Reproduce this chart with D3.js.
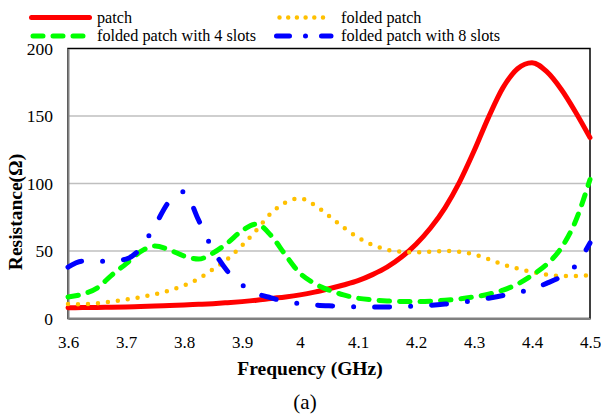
<!DOCTYPE html>
<html>
<head>
<meta charset="utf-8">
<script src="https://cdn.jsdelivr.net/npm/d3@7/dist/d3.min.js"></script>
<style>
  html, body { margin: 0; padding: 0; background: #fff; }
  svg { display: block; }
  text { font-family: "Liberation Serif", "Times New Roman", serif; fill: #000; }
</style>
</head>
<body>
<svg id="chart" width="601" height="417"></svg>
<script>
// Frequency samples (GHz), 25 MHz apart
const freq = [3.6, 3.625, 3.65, 3.675, 3.7, 3.725, 3.75, 3.775, 3.8, 3.825,
              3.85, 3.875, 3.9, 3.925, 3.95, 3.975, 4.0, 4.025, 4.05, 4.075,
              4.1, 4.125, 4.15, 4.175, 4.2, 4.225, 4.25, 4.275, 4.3, 4.325,
              4.35, 4.375, 4.4, 4.425, 4.45, 4.475, 4.5];

// Input resistance (Ω) of each antenna
const patch = [8, 8.1, 8.2, 8.4, 8.6, 8.9, 9.2, 9.6, 10, 10.5,
               11, 11.7, 12.5, 13.5, 14.8, 16, 17.5, 19.5, 22, 24.8,
               28, 32.5, 38, 45.5, 55, 67, 82, 101, 124, 149,
               171, 185, 189.5, 183, 170, 153, 134];
const foldedPatch = [10.7, 10.6, 11.3, 12.5, 14, 15.8, 18, 20.8, 24.5, 29.5,
                     36.5, 44, 54, 65.5, 78, 86, 89, 84, 76, 67.5,
                     60, 54.5, 51, 49.5, 49, 49.5, 50, 49.5, 47.5, 44,
                     40, 37, 34.5, 32.5, 31.5, 31.5, 32];
const folded4Slots = [16, 18, 22.5, 32, 40.5, 49.5, 53.7, 50.8, 46.3, 44,
                      48.5, 56, 65, 70, 61.5, 47, 33.5, 26, 21, 17.5,
                      15, 13.8, 13, 12.6, 12.5, 12.8, 13.5, 14.5, 16, 18,
                      21, 25.5, 32, 40, 52, 72, 103];
const folded8Slots = [38, 42.5, 42.3, 42.5, 44, 52, 69, 87, 94, 73,
                      51, 35, 25, 18.5, 15.3, 12.5, 11, 10, 9.4, 9,
                      8.7, 8.5, 8.5, 8.7, 9.2, 9.8, 10.7, 11.8, 13.2, 15,
                      17, 19, 22, 26, 31, 39, 56];

const seriesNames = ["patch", "folded patch", "folded patch with 4 slots", "folded patch with 8 slots"];
const xTicks = [3.6, 3.7, 3.8, 3.9, 4, 4.1, 4.2, 4.3, 4.4, 4.5];
const yTicks = [0, 50, 100, 150, 200];

const series = [
  { name: seriesNames[0], values: patch,        color: "#ff0000", width: 5,   dash: null,         legendDash: null },
  { name: seriesNames[1], values: foldedPatch,  color: "#ffc000", width: 4.5, dash: "0,10",       legendDash: "0,8.7" },
  { name: seriesNames[2], values: folded4Slots, color: "#00ff00", width: 5,   dash: "10.5,10",    legendDash: "10,10" },
  { name: seriesNames[3], values: folded8Slots, color: "#0000ff", width: 5,   dash: "15,21,0,21", legendDash: "13,16,0,16" }
];

const svg = d3.select("#chart");
const plot = { left: 68, right: 590, top: 48.5, bottom: 318.5 };

const x = d3.scaleLinear().domain([3.6, 4.5]).range([plot.left, plot.right]);
const y = d3.scaleLinear().domain([0, 200]).range([plot.bottom, plot.top]);

// horizontal gridlines
svg.append("g").selectAll("line")
  .data(yTicks.filter(v => v > 0 && v < 200))
  .join("line")
  .attr("x1", plot.left).attr("x2", plot.right)
  .attr("y1", d => y(d)).attr("y2", d => y(d))
  .attr("stroke", "#bfbfbf").attr("stroke-width", 1.5);

// plot frame
svg.append("rect")
  .attr("x", plot.left).attr("y", plot.top)
  .attr("width", plot.right - plot.left).attr("height", plot.bottom - plot.top)
  .attr("fill", "none").attr("stroke", "#000").attr("stroke-width", 1.5);

// axes
const xAxis = svg.append("g")
  .attr("transform", `translate(0,${plot.bottom})`)
  .call(d3.axisBottom(x).tickValues(xTicks).tickSize(0).tickPadding(17)
    .tickFormat(d => String(+d.toFixed(1))));
xAxis.attr("font-family", null);
xAxis.select(".domain").attr("stroke", "#808080").attr("stroke-width", 2);
xAxis.selectAll("text").attr("font-size", 17);

const yAxis = svg.append("g")
  .attr("transform", `translate(${plot.left},0)`)
  .call(d3.axisLeft(y).tickValues(yTicks).tickSize(0).tickPadding(15));
yAxis.attr("font-family", null);
yAxis.select(".domain").attr("stroke", "#808080").attr("stroke-width", 2);
yAxis.selectAll("text").attr("font-size", 17.5);

// data lines
const line = d3.line()
  .x((d, i) => x(freq[i]))
  .y(d => y(d))
  .curve(d3.curveMonotoneX);

svg.append("g").selectAll("path")
  .data(series)
  .join("path")
  .attr("d", d => line(d.values))
  .attr("fill", "none")
  .attr("stroke", d => d.color)
  .attr("stroke-width", d => d.width)
  .attr("stroke-linecap", "round")
  .attr("stroke-linejoin", "round")
  .attr("stroke-dasharray", d => d.dash);

// axis titles
svg.append("text")
  .attr("x", 310).attr("y", 375)
  .attr("text-anchor", "middle")
  .attr("font-size", 19.5).attr("font-weight", "bold")
  .text("Frequency (GHz)");

svg.append("text")
  .attr("transform", "translate(22,212) rotate(-90)")
  .attr("text-anchor", "middle")
  .attr("font-size", 19.5).attr("font-weight", "bold")
  .text("Resistance(Ω)");

svg.append("text")
  .attr("x", 305).attr("y", 409)
  .attr("text-anchor", "middle")
  .attr("font-size", 21)
  .text("(a)");

// legend, two columns by two rows
const legendPos = [
  { x1: 31.5, x2: 89.5, tx: 97, y: 17.5 },
  { x1: 279.5, x2: 331, tx: 341, y: 17.5 },
  { x1: 33, x2: 90, tx: 97, y: 36 },
  { x1: 276.5, x2: 331, tx: 341, y: 36 }
];
const legend = svg.append("g").selectAll("g")
  .data(series)
  .join("g")
  .attr("transform", (d, i) => `translate(0,${legendPos[i].y})`);

legend.append("line")
  .attr("x1", (d, i) => legendPos[i].x1)
  .attr("x2", (d, i) => legendPos[i].x2)
  .attr("y1", 0).attr("y2", 0)
  .attr("stroke", d => d.color)
  .attr("stroke-width", d => d.width)
  .attr("stroke-linecap", "round")
  .attr("stroke-dasharray", d => d.legendDash);

legend.append("text")
  .attr("x", (d, i) => legendPos[i].tx)
  .attr("y", 5)
  .attr("font-size", 16.2)
  .text(d => d.name);
</script>
</body>
</html>
